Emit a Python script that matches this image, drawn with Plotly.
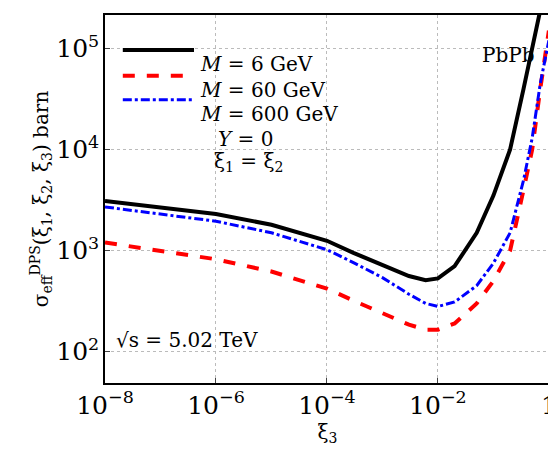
import plotly.graph_objects as go

xi3 = [1e-8, 1e-7, 1e-6, 1e-5, 1e-4, 3e-4, 1e-3, 3e-3, 6e-3, 1e-2, 2e-2, 5e-2, 0.1, 0.2, 0.35, 0.5, 0.7, 1.0]
s6 = [3100, 2700, 2300, 1800, 1250, 950, 720, 560, 510, 530, 700, 1500, 3500, 10000, 40000, 100000, 250000, 600000]
s60 = [1200, 1000, 820, 620, 420, 320, 240, 185, 165, 165, 190, 300, 500, 1000, 4000, 10000, 40000, 150000]
s600 = [2700, 2300, 1950, 1500, 1020, 760, 540, 370, 300, 280, 310, 450, 750, 1500, 5000, 13000, 45000, 120000]

fig = go.Figure()
fig.add_trace(go.Scatter(x=xi3, y=s6, mode="lines", line=dict(color="black", width=4), name="6"))
fig.add_trace(go.Scatter(x=xi3, y=s60, mode="lines", line=dict(color="red", width=4, dash="dash"), name="60"))
fig.add_trace(go.Scatter(x=xi3, y=s600, mode="lines", line=dict(color="blue", width=3, dash="dashdot"), name="600"))

font = dict(family="DejaVu Serif", size=20, color="black")
ax = dict(showline=True, linecolor="black", linewidth=1.5, mirror=True, ticks="inside",
          gridcolor="#bbbbbb", griddash="dot", zeroline=False, tickfont=font, exponentformat="power")
fig.update_xaxes(type="log", range=[-8, 0.02], dtick=2, title=dict(text="ξ<sub>3</sub>", font=font, standoff=0), **ax)
fig.update_yaxes(type="log", range=[1.69, 5.33], dtick=1,
                 title=dict(text="σ<sub>eff</sub><sup>DPS</sup>(ξ<sub>1</sub>, ξ<sub>2</sub>, ξ<sub>3</sub>) barn", font=font, standoff=2), **ax)

items = [("black", "solid", 4), ("red", "dash", 4), ("blue", "dashdot", 3)]
labels = ["<i>M</i> = 6 GeV", "<i>M</i> = 60 GeV", "<i>M</i> = 600 GeV"]
ys = [0.905, 0.835, 0.77]
for (c, d, w), t, y in zip(items, labels, ys):
    fig.add_shape(type="line", xref="paper", yref="paper", x0=0.04, x1=0.2, y0=y, y1=y, line=dict(color=c, dash=d, width=w))
    fig.add_annotation(xref="paper", yref="paper", x=0.21, y=y, text=t, showarrow=False, xanchor="left", font=font)
fig.add_annotation(xref="paper", yref="paper", x=0.25, y=0.70, text="<i>Y</i> = 0", showarrow=False, xanchor="left", font=font)
fig.add_annotation(xref="paper", yref="paper", x=0.24, y=0.60, text="ξ<sub>1</sub> = ξ<sub>2</sub>", showarrow=False, xanchor="left", font=font)
fig.add_annotation(xref="paper", yref="paper", x=0.97, y=0.93, text="PbPb", showarrow=False, xanchor="right", font=font)
fig.add_annotation(xref="paper", yref="paper", x=0.02, y=0.08, text="√s = 5.02 TeV", showarrow=False, xanchor="left", font=font)

fig.update_layout(width=556, height=472, margin=dict(l=97, r=14, t=5, b=97),
                  plot_bgcolor="white", paper_bgcolor="white", showlegend=False)
fig.write_html("out.html")
